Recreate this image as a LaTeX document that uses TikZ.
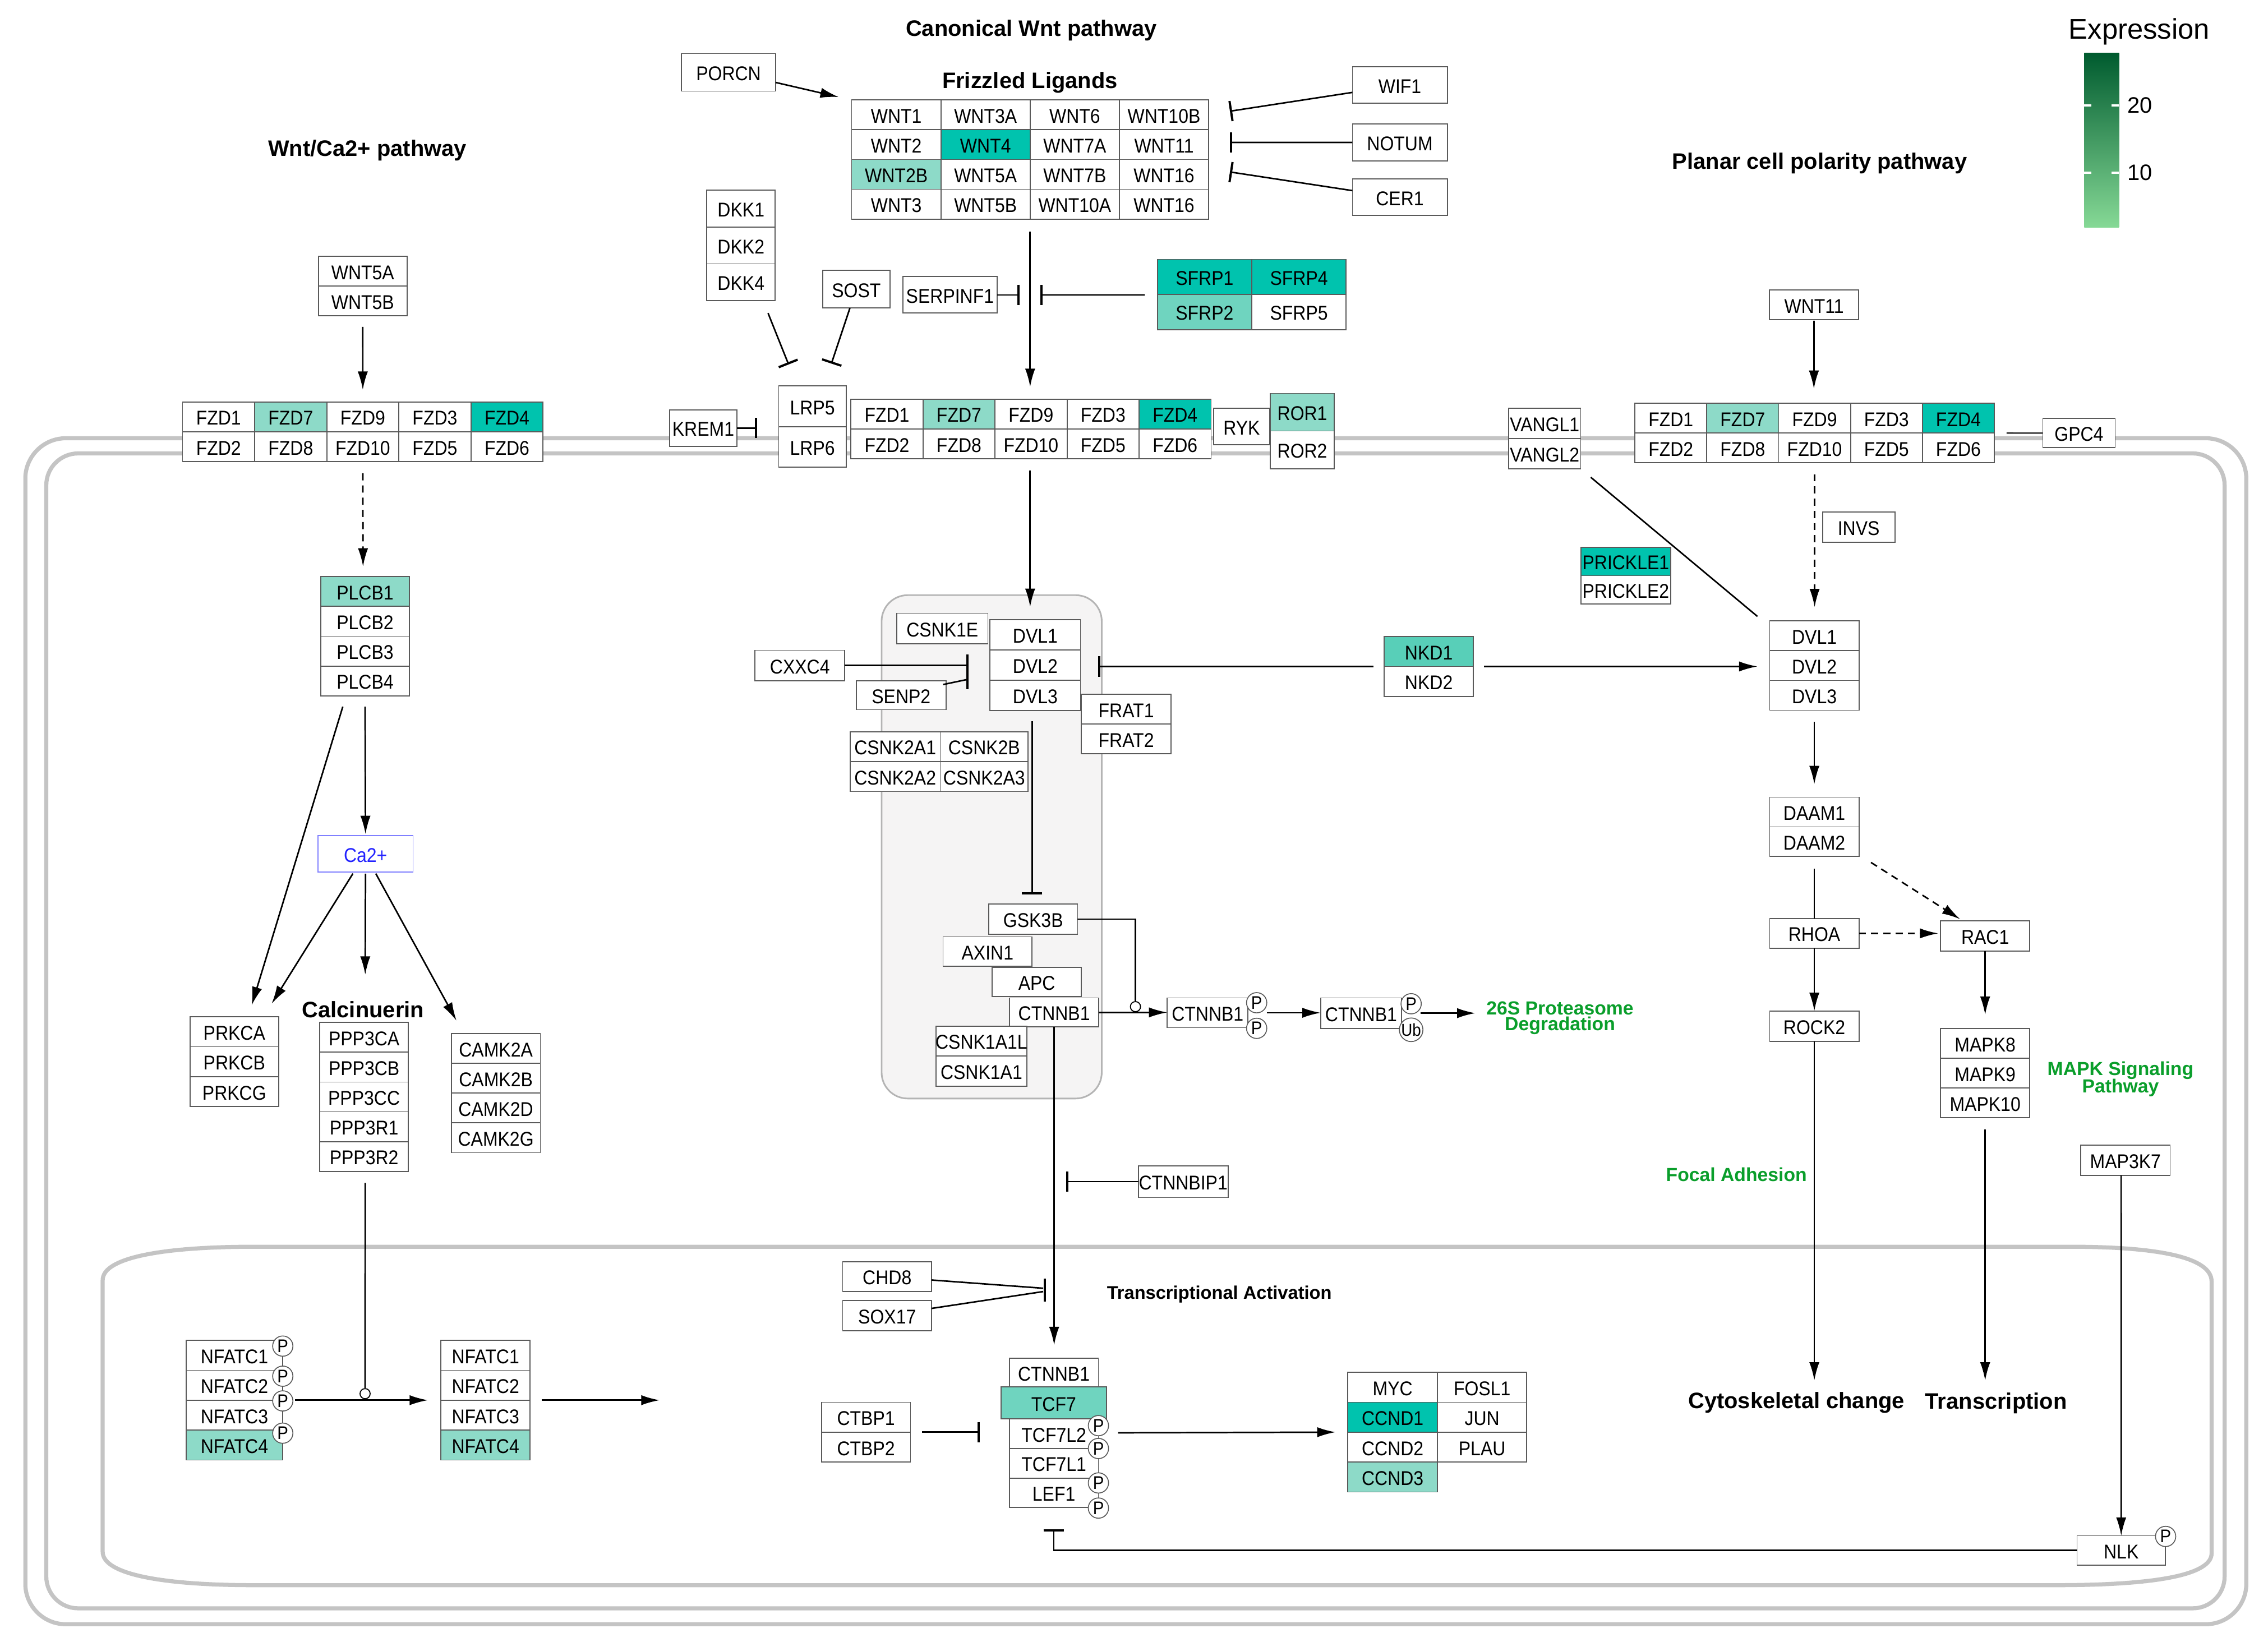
\documentclass[tikz,border=0pt]{standalone}
\usepackage{fontspec}
\setmainfont{Liberation Sans}
\newfontfamily\gfam[FakeStretch=0.9]{Liberation Sans}
\usetikzlibrary{arrows.meta,calc}
\definecolor{hi}{HTML}{00C3AE}
\definecolor{mid}{HTML}{58CFB8}
\definecolor{tcf}{HTML}{6FD4BF}
\definecolor{lo}{HTML}{8DDAC8}
\definecolor{wh}{HTML}{FFFFFF}
\definecolor{membc}{HTML}{C4C4C4}
\definecolor{bx}{HTML}{5A5A5A}
\definecolor{grn}{HTML}{0A9E2B}
\definecolor{cablue}{HTML}{2222FF}
\definecolor{cabord}{HTML}{8080FF}
\definecolor{cfill}{HTML}{F5F4F4}
\definecolor{cgray}{HTML}{B4B4B4}
\newcommand\un{0.025cm}
\newcommand\cell[7]{\node[gene,fill=#6,minimum width=#4*\un,minimum height=#5*\un] (#1) at (#2,#3) {\makebox[0pt]{#7}};}
\newcommand\vstack[6]{\foreach \gname/\gcol [count=\gi] in {#6}{\node[gene,fill=\gcol,minimum width=#4*\un,minimum height=#5*\un] (#1-\gi) at ({#2},{#3+(\gi-1)*(#5)}) {\makebox[0pt]{\gname}};}}
\begin{document}
\begin{tikzpicture}[x=0.025cm,y=-0.025cm,
  gene/.style={draw=bx,line width=0.5pt,inner sep=0pt,outer sep=0pt,font=\gfam\fontsize{9.8}{10}\selectfont,text height=8pt,text depth=0pt,anchor=north west},
  pc/.style={circle,draw=bx,fill=white,line width=0.45pt,minimum size=14*\un,inner sep=0pt,font=\gfam\fontsize{9}{9}\selectfont},
  cat/.style={circle,draw=black,fill=white,line width=0.5pt,minimum size=7*\un,inner sep=0pt},
  head/.style={font=\bfseries\fontsize{11}{12}\selectfont,inner sep=0pt},
  glab/.style={font=\bfseries\fontsize{9.3}{10}\selectfont,text=grn,inner sep=0pt},
  membl/.style={draw=membc,line width=2pt},
  ln/.style={draw=black,line width=0.75pt},
  arr/.style={-{Latex[length=9pt,width=5pt]}},
  inh/.style={-{Bar[width=10pt,line width=1.1pt]}},
  barl/.style={draw=black,line width=1.1pt},
  dashed2/.style={dash pattern=on 3.5pt off 2.5pt}]
\useasboundingbox (0,0) rectangle (1568,1135);
\fill[white] (0,0) rectangle (1568,1135);
% membranes
\draw[membl,rounded corners=0.7cm] (17.5,303) rectangle (1553,1123);
\draw[membl,rounded corners=0.55cm] (32,313.5) rectangle (1538,1112);
\draw[membl] (176,862) -- (1431,862) .. controls (1495,862) and (1529,870) .. (1529,886) -- (1529,1074) .. controls (1529,1088) and (1495,1096) .. (1421,1096) -- (176,1096) .. controls (110,1096) and (71,1088) .. (71,1073) -- (71,885) .. controls (71,870) and (110,862) .. (176,862) -- cycle;
\draw[draw=cgray,fill=cfill,line width=0.8pt,rounded corners=0.45cm] (609.5,411.5) rectangle (761.7,759.5);
% titles
\node[head] (tCan) at (713,21) {Canonical Wnt pathway};
\node[head] (tFz) at (712,57) {Frizzled Ligands};
\node[head] (tCa) at (254,104) {Wnt/Ca2+ pathway};
\node[head] (tPcp) at (1258,113) {Planar cell polarity pathway};
\node[head] (tCalc) at (251,698) {Calcinuerin};
\node[head,font=\bfseries\fontsize{9}{10}\selectfont] (tTA) at (843,895) {Transcriptional Activation};
\node[head] (cyto) at (1242,970) {Cytoskeletal change};
\node[head] (trans) at (1380,970) {Transcription};
\node[glab] (deg1) at (1078.5,697) {26S Proteasome};
\node[glab] (deg2) at (1078.5,709) {Degradation};
\node[glab] (mapt1) at (1466,740) {MAPK Signaling};
\node[glab] (mapt2) at (1466,752) {Pathway};
\node[glab] (focal) at (1200.5,812) {Focal Adhesion};
% legend
\node[font=\fontsize{14}{16}\selectfont,inner sep=0pt] (legt) at (1479,22) {Expression};
\shade[top color={rgb,255:red,0;green,91;blue,47},middle color={rgb,255:red,0;green,146;blue,90},bottom color={rgb,255:red,134;green,217;blue,150}] (1441,36.6) rectangle (1465,157.4);
\draw[white,line width=1pt] (1441,72.8) -- (1446,72.8) (1460,72.8) -- (1465,72.8) (1441,119.5) -- (1446,119.5) (1460,119.5) -- (1465,119.5);
\node[font=\fontsize{11}{12}\selectfont,inner sep=0pt] (leg20) at (1479.5,72.8) {20};
\node[font=\fontsize{11}{12}\selectfont,inner sep=0pt] (leg10) at (1479.5,119.5) {10};
% ligands
\cell{porcn}{471.2}{37}{65}{26}{wh}{PORCN}
\vstack{wntA}{588.8}{69.1}{61.7}{20.6}{WNT1/wh,WNT2/wh,WNT2B/lo,WNT3/wh}
\vstack{wntB}{650.5}{69.1}{61.7}{20.6}{WNT3A/wh,WNT4/hi,WNT5A/wh,WNT5B/wh}
\vstack{wntC}{712.2}{69.1}{61.7}{20.6}{WNT6/wh,WNT7A/wh,WNT7B/wh,WNT10A/wh}
\vstack{wntD}{773.9}{69.1}{61.7}{20.6}{WNT10B/wh,WNT11/wh,WNT16/wh,WNT16/wh}
\cell{wif1}{935}{46.3}{65.6}{25.2}{wh}{WIF1}
\cell{notum}{935}{85.6}{65.6}{25.8}{wh}{NOTUM}
\cell{cer1}{935}{123.7}{65.6}{25.2}{wh}{CER1}
\vstack{dkk}{488.6}{131.4}{47.4}{25.5}{DKK1/wh,DKK2/wh,DKK4/wh}
\cell{sost}{568.7}{187}{46.6}{26}{wh}{SOST}
\cell{serp}{624.3}{191.3}{65}{25.2}{wh}{SERPINF1}
\vstack{sfrpA}{800.2}{179.3}{65.2}{24.3}{SFRP1/hi,SFRP2/tcf}
\vstack{sfrpB}{865.4}{179.3}{65.3}{24.3}{SFRP4/hi,SFRP5/wh}
\vstack{wnt5}{220.1}{177.3}{61.4}{20.5}{WNT5A/wh,WNT5B/wh}
\cell{wnt11}{1223.4}{200.6}{61.5}{20.4}{wh}{WNT11}
% receptors
\vstack{lrp}{538.4}{266.9}{46.6}{28.1}{LRP5/wh,LRP6/wh}
\cell{krem}{462.9}{283.3}{46.6}{25.2}{wh}{KREM1}
\vstack{fzcA}{588.3}{276}{49.8}{20.6}{FZD1/wh,FZD2/wh}
\vstack{fzcB}{638.1}{276}{49.8}{20.6}{FZD7/lo,FZD8/wh}
\vstack{fzcC}{687.9}{276}{49.8}{20.6}{FZD9/wh,FZD10/wh}
\vstack{fzcD}{737.7}{276}{49.8}{20.6}{FZD3/wh,FZD5/wh}
\vstack{fzcE}{787.5}{276}{49.8}{20.6}{FZD4/hi,FZD6/wh}
\cell{ryk}{839.1}{282.4}{38.6}{25.2}{wh}{RYK}
\vstack{ror}{878.3}{272}{44.1}{26}{ROR1/lo,ROR2/wh}
\vstack{fzaA}{126.2}{277.9}{49.85}{20.65}{FZD1/wh,FZD2/wh}
\vstack{fzaB}{176.05}{277.9}{49.85}{20.65}{FZD7/lo,FZD8/wh}
\vstack{fzaC}{225.9}{277.9}{49.85}{20.65}{FZD9/wh,FZD10/wh}
\vstack{fzaD}{275.75}{277.9}{49.85}{20.65}{FZD3/wh,FZD5/wh}
\vstack{fzaE}{325.6}{277.9}{49.85}{20.65}{FZD4/hi,FZD6/wh}
\vstack{fzpA}{1130.3}{278.8}{49.7}{20.55}{FZD1/wh,FZD2/wh}
\vstack{fzpB}{1180}{278.8}{49.7}{20.55}{FZD7/lo,FZD8/wh}
\vstack{fzpC}{1229.7}{278.8}{49.7}{20.55}{FZD9/wh,FZD10/wh}
\vstack{fzpD}{1279.4}{278.8}{49.7}{20.55}{FZD3/wh,FZD5/wh}
\vstack{fzpE}{1329.1}{278.8}{49.7}{20.55}{FZD4/hi,FZD6/wh}
\cell{gpc4}{1412.3}{289.3}{50}{20.2}{wh}{GPC4}
\vstack{vangl}{1043.1}{282.4}{49.7}{20.8}{VANGL1/wh,VANGL2/wh}
\vstack{prickle}{1093}{378.5}{62}{19.5}{PRICKLE1/hi,PRICKLE2/wh}
\cell{invs}{1260}{354}{50}{21}{wh}{INVS}
% canonical
\cell{csnk1e}{620}{424}{63}{21}{wh}{CSNK1E}
\vstack{dvlc}{684.5}{428.6}{62.5}{20.9}{DVL1/wh,DVL2/wh,DVL3/wh}
\cell{cxxc}{522}{449.6}{62}{21.1}{wh}{CXXC4}
\cell{senp}{592}{470.7}{62}{20}{wh}{SENP2}
\vstack{frat}{747.6}{480}{62}{20.6}{FRAT1/wh,FRAT2/wh}
\vstack{csnkA}{587.8}{505.9}{62.2}{20.7}{CSNK2A1/wh,CSNK2A2/wh}
\vstack{csnkB}{650}{505.9}{60.8}{20.7}{CSNK2B/wh,CSNK2A3/wh}
\cell{gsk}{683.6}{625}{61.4}{21}{wh}{GSK3B}
\cell{axin}{652}{647.7}{61.5}{20.3}{wh}{AXIN1}
\cell{apc}{686}{669}{61.6}{20}{wh}{APC}
\cell{ctnc}{698}{690}{61.6}{20}{wh}{CTNNB1}
\vstack{csnk1a}{647}{709.4}{63}{20.8}{CSNK1A1L/wh,CSNK1A1/wh}
\cell{ctnp}{807}{690}{55.8}{20.5}{wh}{CTNNB1}
\node[pc] (ctnpP1) at (868.8,693.3) {P};
\node[pc] (ctnpP2) at (868.8,711) {P};
\cell{ctnu}{913}{690}{56}{21}{wh}{CTNNB1}
\node[pc] (ctnuP) at (975.6,694) {P};
\node[pc,font=\gfam\fontsize{8.5}{9}\selectfont] (ctnuU) at (975.6,712) {Ub};
\cell{ctnbip}{787}{806}{62}{22}{wh}{CTNNBIP1}
\node[cat] (cat2) at (785,696) {};
% calcium
\vstack{plcb}{221.8}{398.7}{61.2}{20.6}{PLCB1/lo,PLCB2/wh,PLCB3/wh,PLCB4/wh}
\node[gene,draw=cabord,fill=white,text=cablue,minimum width=65.8*\un,minimum height=25.3*\un] (ca) at (219.8,577.7) {Ca2+};
\vstack{prk}{131.4}{703}{61.2}{20.7}{PRKCA/wh,PRKCB/wh,PRKCG/wh}
\vstack{ppp}{221}{706.9}{61.4}{20.6}{PPP3CA/wh,PPP3CB/wh,PPP3CC/wh,PPP3R1/wh,PPP3R2/wh}
\vstack{camk}{312}{714.6}{61.6}{20.6}{CAMK2A/wh,CAMK2B/wh,CAMK2D/wh,CAMK2G/wh}
\vstack{nfp}{128.6}{926.7}{66.9}{20.7}{NFATC1/wh,NFATC2/wh,NFATC3/wh,NFATC4/lo}
\node[pc] (nfpP1) at (195.5,930.7) {P};
\node[pc] (nfpP2) at (195.5,951.5) {P};
\node[pc] (nfpP3) at (195.5,968.6) {P};
\node[pc] (nfpP4) at (195.5,990.9) {P};
\vstack{nf}{304.8}{926.7}{61.7}{20.7}{NFATC1/wh,NFATC2/wh,NFATC3/wh,NFATC4/lo}
\node[cat] (cat1) at (252.4,963.6) {};
% nucleus
\cell{chd8}{582.6}{872.3}{61.4}{20.7}{wh}{CHD8}
\cell{sox}{582.6}{899.3}{61.4}{20.7}{wh}{SOX17}
\vstack{ctbp}{567.9}{969.5}{61.6}{20.7}{CTBP1/wh,CTBP2/wh}
\cell{ctnn}{697.8}{939}{61.6}{20}{wh}{CTNNB1}
\cell{tcf7l2}{697.8}{981}{61.6}{20.5}{wh}{TCF7L2}
\cell{tcf7l1}{697.8}{1001.5}{61.6}{20.5}{wh}{TCF7L1}
\cell{lef1}{697.8}{1022}{61.6}{20.3}{wh}{LEF1}
\cell{tcf7}{692}{959}{73}{22}{tcf}{TCF7}
\node[pc] (tcfP1) at (759.4,985.7) {P};
\node[pc] (tcfP2) at (759.4,1001.5) {P};
\node[pc] (tcfP3) at (759.4,1025.3) {P};
\node[pc] (tcfP4) at (759.4,1042.7) {P};
\vstack{mycA}{931.8}{948.8}{62}{20.7}{MYC/wh,CCND1/hi,CCND2/wh,CCND3/lo}
\vstack{mycB}{993.8}{948.8}{61.7}{20.7}{FOSL1/wh,JUN/wh,PLAU/wh}
\cell{nlk}{1436}{1061.8}{61}{20.4}{wh}{NLK}
\node[pc] (nlkP) at (1497.2,1062.3) {P};
\cell{map3k7}{1438.6}{791.8}{61.7}{20.9}{wh}{MAP3K7}
% PCP
\vstack{dvlp}{1223.5}{429.3}{61.7}{20.6}{DVL1/wh,DVL2/wh,DVL3/wh}
\vstack{nkd}{957}{440}{61.6}{20.8}{NKD1/mid,NKD2/wh}
\vstack{daam}{1223.5}{551.2}{61.7}{20.5}{DAAM1/wh,DAAM2/wh}
\cell{rhoa}{1223.5}{635}{61.7}{20.7}{wh}{RHOA}
\cell{rac1}{1341.6}{636.8}{61.7}{20.8}{wh}{RAC1}
\cell{rock2}{1223.5}{699}{61.7}{21}{wh}{ROCK2}
\vstack{mapk}{1341.6}{711.1}{61.7}{20.6}{MAPK8/wh,MAPK9/wh,MAPK10/wh}
% connectors
\draw[ln,arr] ($(porcn.east)+(0,7)$) -- ($(wntA-1.north west)+(-9,-2)$);
\draw[ln,inh] ($(wif1.west)+(0,5)$) -- ($(wntD-1.east)+(14.7,-2.5)$);
\draw[ln,inh] (notum.west) -- ($(wntD-2.east)+(14.7,-1.5)$);
\draw[ln,inh] ($(cer1.west)+(0,-4.5)$) -- ($(wntD-3.east)+(14.7,-1.7)$);
\draw[ln,arr] ($(wntC-4.south west)+(0,8.5)$) -- ($(fzcC-1.north)+(-0.6,-8.5)$);
\draw[ln,inh] (serp.east) -- ++(15.7,0);
\draw[ln,inh] ($(sfrpA-1.south west)+(-8.7,0.3)$) -- ($(serp.east)+(30,0)$);
\draw[ln,inh] ($(dkk-3.south)+(18.7,8.6)$) -- ($(lrp-1.north west)+(6.8,-14.9)$);
\draw[ln,inh] ($(sost.south)+(-4.4,0)$) -- ($(lrp-1.north east)+(-10.2,-15.5)$);
\draw[ln,inh] (krem.east) -- ++(13.8,0);
\draw[ln,arr] ($(wnt5-2.south)+(0,7.7)$) -- ($(fzaC-1.north)+(0,-8.4)$);
\draw[ln,arr] ($(wnt11.south)+(0,0.7)$) -- ($(fzpC-1.north)+(-0.5,-10)$);
\draw[line width=1pt,draw=bx] ($(fzpE-1.south east)+(8.5,0)$) -- (gpc4.west);
\draw[ln,arr,dashed2] ($(fzaC-2.south)+(0,8)$) -- ($(plcb-1.north)+(-1.4,-7)$);
\draw[ln,arr] ($(plcb-4.south)+(0,7.5)$) -- ($(ca.north)+(0,-1)$);
\draw[ln,arr] ($(plcb-4.south)+(-15.4,7.5)$) -- ($(prk-1.north)+(12,-8)$);
\draw[ln,arr] ($(ca.south)+(-8.7,1)$) -- ($(prk-1.north)+(25.8,-9)$);
\draw[ln,arr] ($(ca.south)+(0,1)$) -- ($(ppp-1.north)+(0.8,-33)$);
\draw[ln,arr] ($(ca.south)+(7.1,1)$) -- ($(camk-1.north west)+(3.6,-8.9)$);
\draw[ln] ($(ppp-5.south)+(0.8,8)$) -- (cat1.north);
\draw[ln,arr] ($(nfp-3.north east)+(8.5,0)$) -- ($(nf-3.north west)+(-9,0)$);
\coordinate (nfout) at (456,968.1);
\draw[ln,arr] ($(nf-3.north east)+(8,0)$) -- (nfout);
\draw[ln,arr] ($(fzcC-2.south)+(-0.6,8)$) -- ($(fzcC-2.south |- dvlc-1.north)+(-0.6,-9)$);
\draw[ln] (cxxc.east) -- ++(85,0);
\draw[barl] ($(cxxc.east)+(85,-7.5)$) -- ++(0,24);
\draw[ln] ($(senp.north east)+(-2,2.6)$) -- ($(cxxc.east)+(84,9.8)$);
\draw[ln,inh] ($(nkd-1.south west)+(-7.4,0)$) -- ($(dvlc-2.east |- nkd-1.south west)+(12,0)$);
\draw[ln,arr] ($(nkd-1.south east)+(7.4,0)$) -- ($(dvlp-1.west |- nkd-1.south east)+(-8.5,0)$);
\draw[ln] ($(vangl-2.south east)+(7,6)$) -- ($(dvlp-1.west)+(-8.5,-13.4)$);
\draw[ln,arr,dashed2] ($(fzpC-2.south)+(0,8)$) -- ($(fzpC-2.south |- dvlp-1.north)+(0,-9.5)$);
\draw[ln,inh] ($(dvlc-3.south)+(-2.2,7.5)$) -- ($(dvlc-3.south |- gsk.north)+(-2.2,-6.5)$);
\draw[ln] (gsk.east) -| (cat2.north);
\draw[ln,arr] (ctnc.east) -- (ctnc.east -| ctnp.west);
\draw[ln,arr] ($(ctnp.east)+(13,0)$) -- (ctnp.east -| ctnu.west);
\coordinate (degin) at (1020,700.5);
\draw[ln,arr] ($(ctnu.east)+(13,0)$) -- (degin);
\draw[ln,arr] (ctnc.south) -- ($(ctnc.south |- ctnn.north)+(0,-9)$);
\draw[ln,inh] (ctnbip.west) -- ++(-50,0);
\coordinate (chdbar) at ($(chd8.east)+(78.3,8.2)$);
\draw[ln] ($(chd8.east)+(0,2.35)$) -- ($(chdbar)+(-1.1,-0.15)$);
\draw[ln] ($(sox.east)+(0,-5)$) -- ($(chdbar)+(-1.1,2.15)$);
\draw[barl] ($(chdbar)+(0,-6.85)$) -- ($(chdbar)+(0,8.95)$);
\draw[ln,inh] ($(ctbp-1.south east)+(8,0)$) -- ++(39.8,0);
\draw[ln,arr] ($(tcf7l2.east)+(13.6,-0.6)$) -- ($(mycA-2.south west)+(-8.5,0)$);
\draw[ln,inh] (nlk.west) -| ($(lef1.south)+(-0.1,15.2)$);
\draw[ln,arr] ($(map3k7.south)+(-3,0)$) -- (nlk.north);
\draw[ln,arr] ($(dvlp-3.south)+(0,8)$) -- ($(daam-1.north)+(0,-9)$);
\draw[ln] ($(daam-2.south)+(0,8.5)$) -- (rhoa.north);
\draw[ln,arr,dashed2] ($(daam-2.south east)+(8.3,4.1)$) -- ($(rac1.north)+(-17.3,-1.3)$);
\draw[ln,arr,dashed2] (rhoa.east) -- ($(rhoa.east -| rac1.west)+(-1.6,0)$);
\draw[ln,arr] (rhoa.south) -- (rock2.north);
\draw[ln,arr] (rock2.south) -- ($(rock2.south |- cyto.north)+(0,-8)$);
\draw[ln,arr] (rac1.south) -- ($(mapk-1.north)+(0,-9.5)$);
\draw[ln,arr] ($(mapk-3.south)+(0,8)$) -- ($(mapk-3.south |- trans.north)+(0,-8)$);
\end{tikzpicture}
\end{document}
